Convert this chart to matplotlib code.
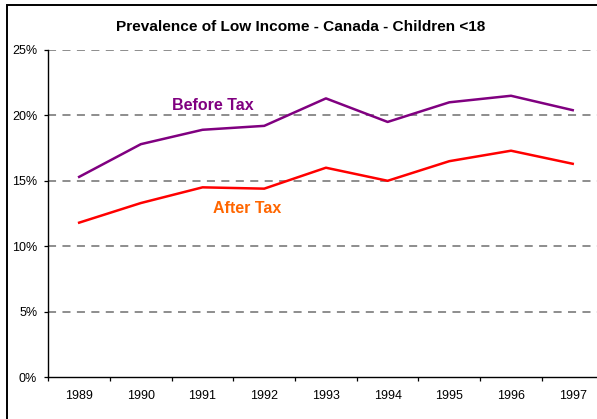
import matplotlib
matplotlib.use('Agg')
import matplotlib.pyplot as plt
from matplotlib.patches import Rectangle
from matplotlib.ticker import FixedLocator, FuncFormatter

# Low income prevalence, children under 18 (percent)
years = ['1989', '1990', '1991', '1992', '1993', '1994', '1995', '1996', '1997']
before_tax = [15.3, 17.8, 18.9, 19.2, 21.3, 19.5, 21.0, 21.5, 20.4]
after_tax = [11.8, 13.3, 14.5, 14.4, 16.0, 15.0, 16.5, 17.3, 16.3]
y_ticks = [0, 5, 10, 15, 20, 25]

plt.rcParams['font.family'] = ['Liberation Sans', 'DejaVu Sans']
plt.rcParams['lines.scale_dashes'] = False

fig = plt.figure(figsize=(5.97, 4.19), dpi=100)
fig.patch.set_facecolor('white')

# outer chart border
fig.patches.append(Rectangle((0.0117, -0.05), 1.1, 1.038,
                             transform=fig.transFigure, fill=False,
                             edgecolor='black', linewidth=1.4))

ax = fig.add_axes([0.0809, 0.1002, 0.9301, 0.7805])
x = list(range(len(years)))

for yv in y_ticks[1:]:
    ax.axhline(yv, color='#7a7a7a', linewidth=1.2, linestyle=(0, (5.8, 4.6)), zorder=1)

ax.plot(x, before_tax, color='#800080', linewidth=1.8, zorder=3)
ax.plot(x, after_tax, color='#FF0000', linewidth=1.8, zorder=3)

ax.text(2.17, 20.72, 'Before Tax', color='#800080', fontsize=11.5,
        fontweight='bold', ha='center', va='center')
ax.text(2.715, 12.9, 'After Tax', color='#FF6600', fontsize=11.5,
        fontweight='bold', ha='center', va='center')

ax.set_xlim(-0.5, len(years) - 0.5)
ax.set_ylim(0, 25)
ax.set_xticks(x)
ax.set_xticklabels(years)
ax.xaxis.set_minor_locator(FixedLocator([i - 0.5 for i in range(len(years) + 1)]))
ax.tick_params(axis='x', which='major', length=0, pad=9, labelsize=9)
ax.tick_params(axis='x', which='minor', length=3, width=0.9, direction='out')
ax.set_yticks(y_ticks)
ax.yaxis.set_major_formatter(FuncFormatter(lambda v, p: '%d%%' % v))
ax.tick_params(axis='y', length=3, width=0.9, pad=5, labelsize=9)

for side in ['top', 'right']:
    ax.spines[side].set_visible(False)
for side in ['left', 'bottom']:
    ax.spines[side].set_linewidth(1.0)

fig.text(0.504, 0.935, 'Prevalence of Low Income - Canada - Children <18',
         ha='center', va='center', fontsize=11.1, fontweight='bold')

fig.savefig('out.png', dpi=100)
